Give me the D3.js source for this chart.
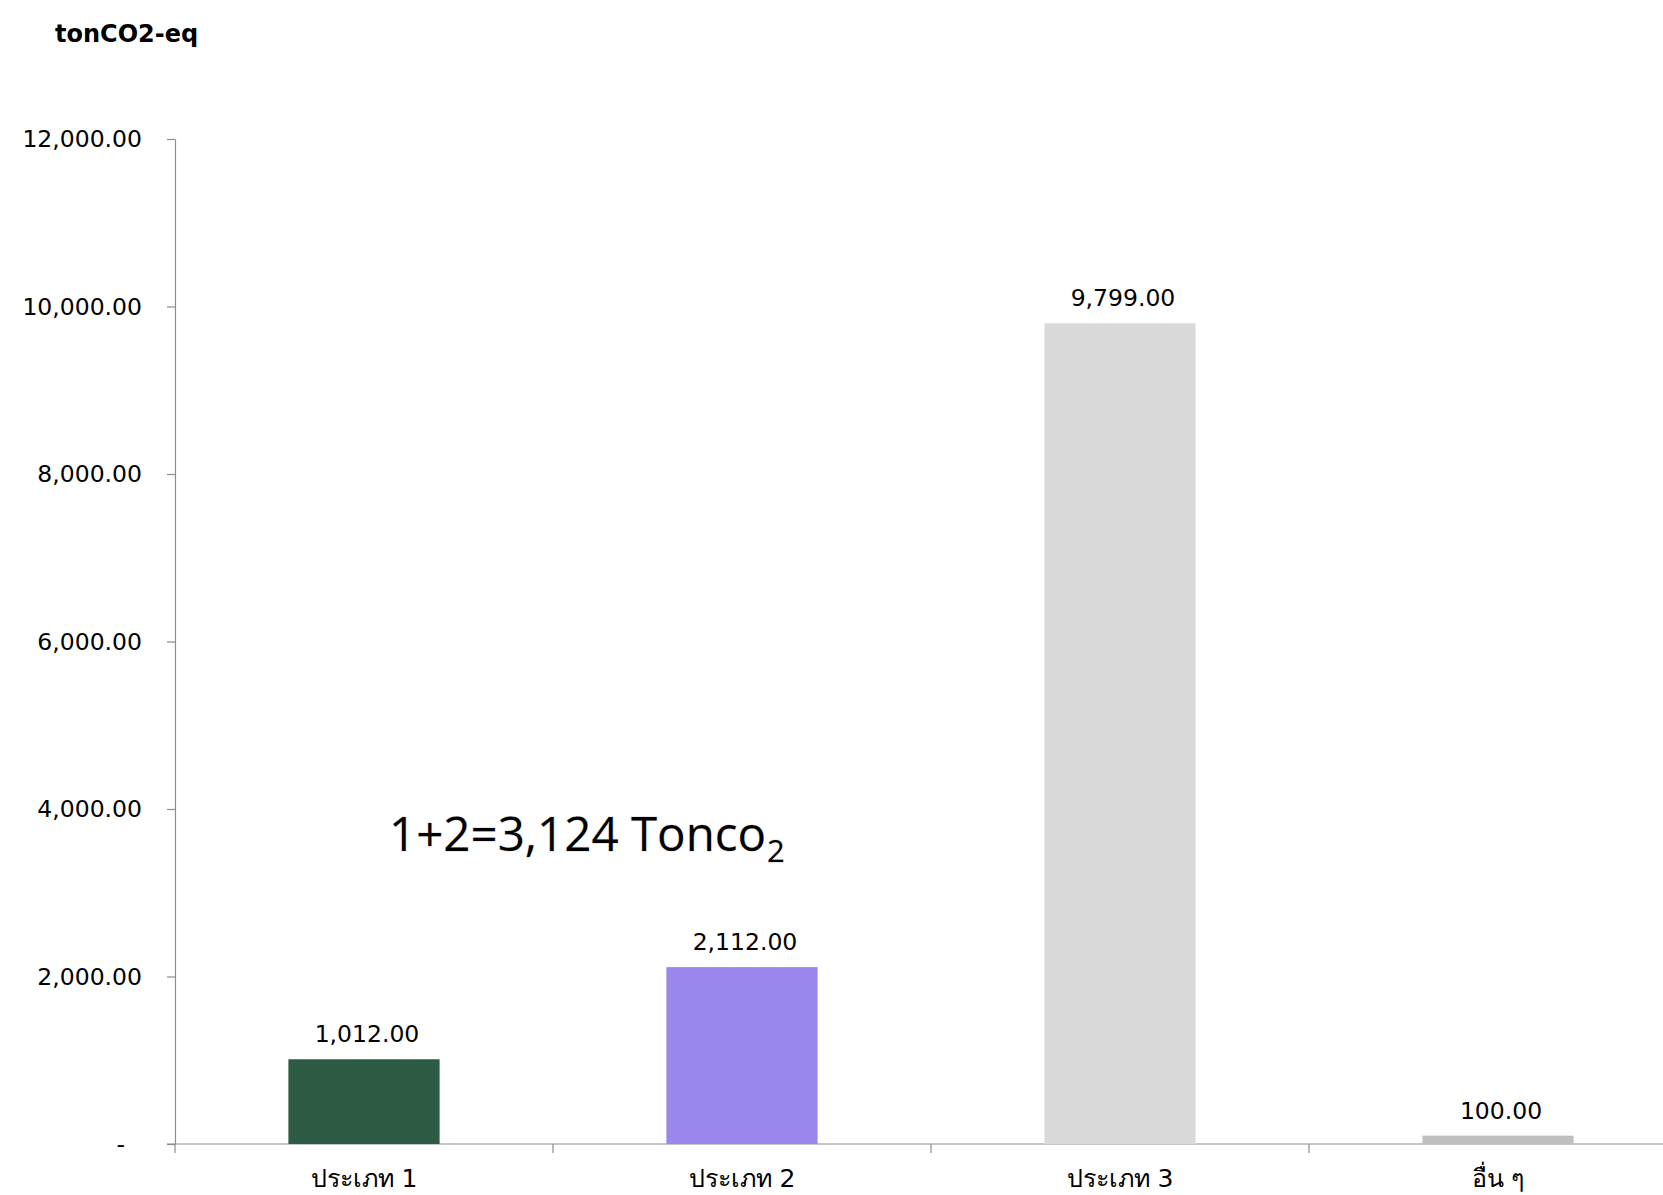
<!DOCTYPE html>
<html>
<head>
<meta charset="utf-8">
<script src="https://cdn.jsdelivr.net/npm/d3@7"></script>
<style>
  body { margin: 0; background: #fff; }
  svg { display: block; }
  text { font-family: Tahoma, "DejaVu Sans", sans-serif; fill: #000; }
</style>
</head>
<body>
<svg id="chart"></svg>
<script>
"use strict";

/*
*  DATA
*/
var categories = ['ประเภท 1', 'ประเภท 2', 'ประเภท 3', 'อื่น ๆ'];
var values = [1012, 2112, 9799, 100];
var colors = ['#2d5a43', '#9b86ee', '#d9d9d9', '#bfbfbf'];
var yTicks = [0, 2000, 4000, 6000, 8000, 10000, 12000];
var unitLabel = 'tonCO2-eq';
var noteMain = '1+2=3,124 Tonco';
var noteSub = '2';

/*
*  RUN
*/
drawChart();

function drawChart() {
  var width = 1663,
      height = 1195;

  var svg = d3.select('#chart').attr('width', width).attr('height', height);

  // plot area runs off the right edge like the original capture
  var x = d3.scaleBand().domain(categories).range([175, 1687]).paddingInner(0.6).paddingOuter(0.3);
  var y = d3.scaleLinear().domain([0, 12000]).range([1144, 139]);

  var fmt = d3.format(',.2f');

  // Y AXIS
  var yAxis = d3.axisLeft(y)
    .tickValues(yTicks)
    .tickSize(8)
    .tickSizeOuter(0)
    .tickPadding(25)
    .tickFormat(function (d) { return d === 0 ? '-' : fmt(d); });

  var gy = svg.append('g').attr('transform', 'translate(175,0)').call(yAxis);
  gy.select('.domain').attr('stroke', '#8c8c8c').attr('stroke-width', 1.2);
  gy.selectAll('.tick line').attr('stroke', '#8c8c8c').attr('stroke-width', 1.2);
  gy.selectAll('.tick text')
    .attr('font-size', 23.5)
    .attr('font-family', 'Tahoma, "DejaVu Sans", sans-serif')
    .attr('fill', '#000')
    .attr('dx', function (d) { return d === 0 ? -17 : 0; });

  // X AXIS
  var xr = x.range();
  svg.append('line')
    .attr('x1', xr[0] - 8).attr('x2', xr[1])
    .attr('y1', y(0)).attr('y2', y(0))
    .attr('stroke', '#8c8c8c').attr('stroke-width', 1.2);

  var bounds = categories.map(function (c, i) { return xr[0] + i * x.step(); });
  svg.selectAll('.xtick').data(bounds).enter().append('line')
    .attr('class', 'xtick')
    .attr('x1', function (d) { return d; }).attr('x2', function (d) { return d; })
    .attr('y1', y(0)).attr('y2', y(0) + 9)
    .attr('stroke', '#8c8c8c').attr('stroke-width', 1.2);

  svg.selectAll('.xlabel').data(categories).enter().append('text')
    .attr('class', 'xlabel')
    .attr('x', function (d) { return x(d) + x.bandwidth() / 2; })
    .attr('y', y(0) + 43)
    .attr('text-anchor', 'middle')
    .attr('font-size', 25)
    .text(function (d) { return d; });

  // BARS
  var data = categories.map(function (c, i) { return { cat: c, value: values[i], color: colors[i] }; });

  svg.selectAll('.bar').data(data).enter().append('rect')
    .attr('class', 'bar')
    .attr('x', function (d) { return x(d.cat); })
    .attr('width', x.bandwidth())
    .attr('y', function (d) { return y(d.value); })
    .attr('height', function (d) { return y(0) - y(d.value); })
    .attr('fill', function (d) { return d.color; });

  svg.selectAll('.val').data(data).enter().append('text')
    .attr('class', 'val')
    .attr('x', function (d) { return x(d.cat) + x.bandwidth() / 2 + 3; })
    .attr('y', function (d) { return y(d.value) - 17; })
    .attr('text-anchor', 'middle')
    .attr('font-size', 23.5)
    .text(function (d) { return fmt(d.value); });

  // UNIT LABEL
  svg.append('text')
    .attr('x', 55).attr('y', 42)
    .attr('font-size', 24)
    .attr('font-weight', 'bold')
    .text(unitLabel);

  // NOTE
  var note = svg.append('text')
    .attr('x', 389).attr('y', 851)
    .attr('font-size', 47.5)
    .style('font-family', '"Open Sans", sans-serif')
    .style('paint-order', 'stroke')
    .attr('stroke', 'rgba(0,0,0,0.12)').attr('stroke-width', 1.5);
  note.append('tspan').text(noteMain);
  note.append('tspan').attr('font-size', 31).attr('dx', 1).attr('dy', 11).text(noteSub);
}
</script>
</body>
</html>
